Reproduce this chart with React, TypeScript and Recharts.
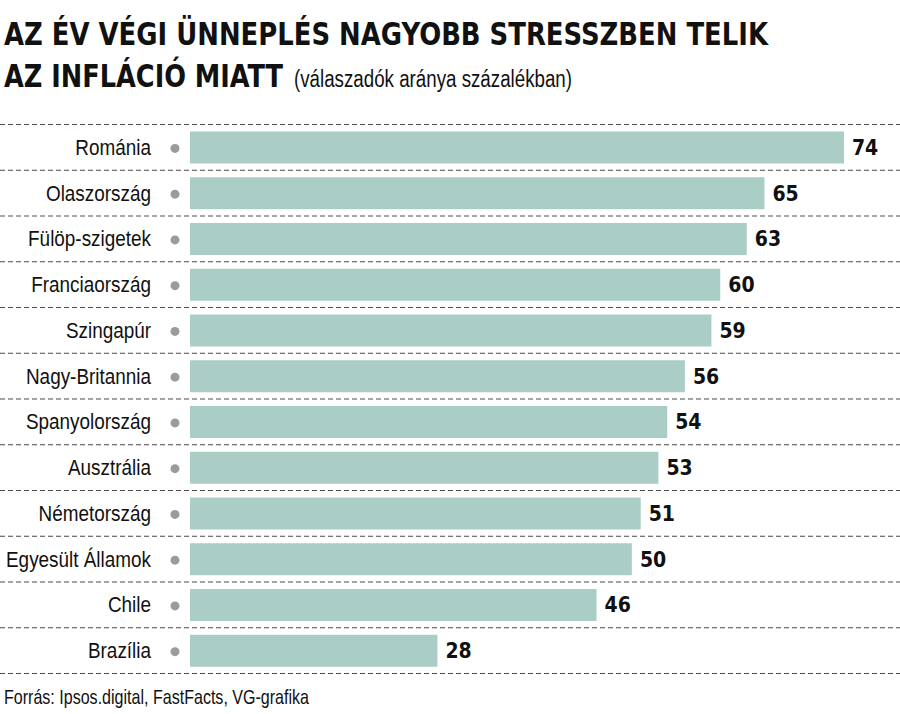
import { BarChart, Bar, XAxis, YAxis, LabelList } from 'recharts';

const COUNTRIES = [
  'Románia',
  'Olaszország',
  'Fülöp-szigetek',
  'Franciaország',
  'Szingapúr',
  'Nagy-Britannia',
  'Spanyolország',
  'Ausztrália',
  'Németország',
  'Egyesült Államok',
  'Chile',
  'Brazília',
];

const SHARES = [74, 65, 63, 60, 59, 56, 54, 53, 51, 50, 46, 28];

const TITLE_LINE_1 = 'AZ ÉV VÉGI ÜNNEPLÉS NAGYOBB STRESSZBEN TELIK';
const TITLE_LINE_2 = 'AZ INFLÁCIÓ MIATT';
const SUBTITLE = '(válaszadók aránya százalékban)';
const SOURCE = 'Forrás: Ipsos.digital, FastFacts, VG-grafika';

const W = 900;
const H = 714;
const TOP = 124.5;
const BOTTOM = 40.5;
const BAND = (H - TOP - BOTTOM) / COUNTRIES.length;

const NARROW = '"DejaVu Sans Condensed", "Liberation Sans", sans-serif';
const LABEL_FONT = '"Liberation Sans", Arial, sans-serif';
const BAR_COLOR = '#aacec6';

const data = COUNTRIES.map((name, i) => ({ name, value: SHARES[i] }));

function CountryTick(props: any) {
  const { x, y, payload, index } = props;
  const last = index === COUNTRIES.length - 1;
  return (
    <g>
      <line x1={0} x2={W} y1={y - BAND / 2} y2={y - BAND / 2} stroke="#4a4a4a" strokeDasharray="5 3" />
      {last && (
        <line x1={0} x2={W} y1={y + BAND / 2} y2={y + BAND / 2} stroke="#4a4a4a" strokeDasharray="5 3" />
      )}
      <g transform={`translate(${x - 39},${y + 7.5}) scale(0.86,1)`}>
        <text x={0} y={0} textAnchor="end" fontFamily={LABEL_FONT} fontSize={22} fill="#111">
          {payload.value}
        </text>
      </g>
      <circle cx={x - 15} cy={y + 1} r={4.5} fill="#9b9b9b" />
    </g>
  );
}

export default function App() {
  return (
    <div style={{ position: 'absolute', left: 0, top: 0, width: W, height: H, background: '#fff', overflow: 'hidden' }}>
      <svg width={W} height={H} style={{ position: 'absolute', left: 0, top: 0 }}>
        <text x={4} y={45} fontFamily={NARROW} fontWeight="bold" fontSize={32} fill="#111"
          textLength={764} lengthAdjust="spacingAndGlyphs">
          {TITLE_LINE_1}
        </text>
        <text x={4} y={87} fontFamily={NARROW} fontWeight="bold" fontSize={32} fill="#111"
          textLength={279} lengthAdjust="spacingAndGlyphs">
          {TITLE_LINE_2}
        </text>
        <text x={294} y={87} fontFamily={LABEL_FONT} fontSize={23} fill="#111"
          textLength={278} lengthAdjust="spacingAndGlyphs">
          {SUBTITLE}
        </text>
        <text x={4} y={704} fontFamily={LABEL_FONT} fontSize={21} fill="#111"
          textLength={305} lengthAdjust="spacingAndGlyphs">
          {SOURCE}
        </text>
      </svg>
      <div style={{ position: 'absolute', left: 0, top: 0 }}>
        <BarChart
          width={W}
          height={H}
          data={data}
          layout="vertical"
          margin={{ top: TOP, right: 3, bottom: BOTTOM, left: 0 }}
        >
          <XAxis type="number" domain={[0, 80]} hide />
          <YAxis
            type="category"
            dataKey="name"
            width={190}
            interval={0}
            axisLine={false}
            tickLine={false}
            tickSize={0}
            tickMargin={0}
            tick={<CountryTick />}
          />
          <Bar dataKey="value" fill={BAR_COLOR} barSize={32} isAnimationActive={false}>
            <LabelList
              dataKey="value"
              position="right"
              offset={8}
              fill="#111"
              fontFamily={NARROW}
              fontWeight="bold"
              fontSize={21}
            />
          </Bar>
        </BarChart>
      </div>
    </div>
  );
}
